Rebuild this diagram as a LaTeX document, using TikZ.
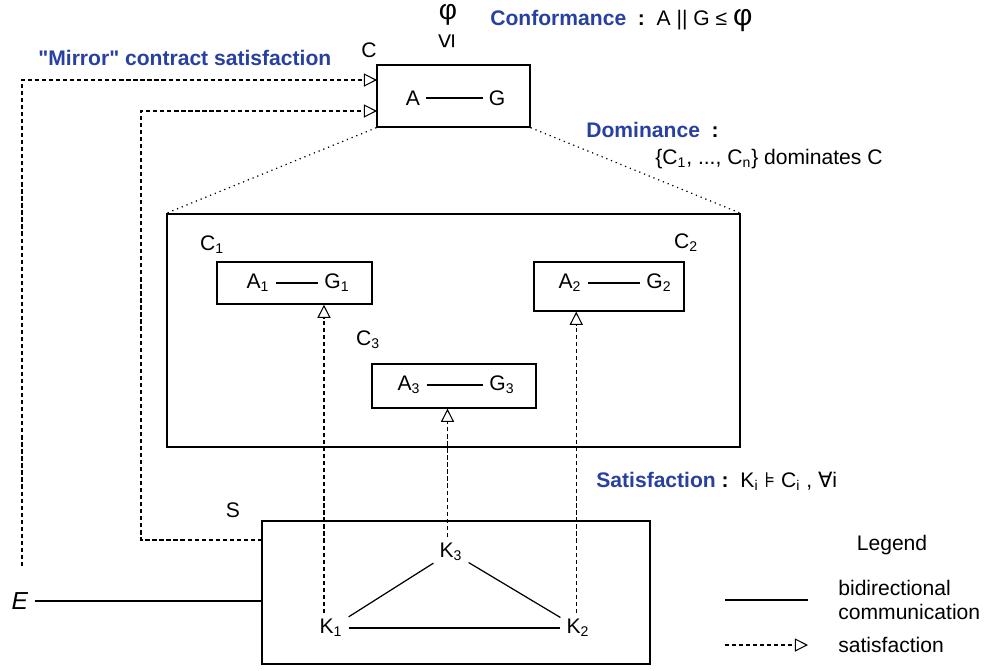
\documentclass[tikz,border=0pt]{standalone}
\usepackage{fontspec}
\setmainfont{Liberation Sans}
\newfontfamily\symfont{DejaVu Sans}
\usetikzlibrary{arrows.meta,fit}

\definecolor{titleblue}{RGB}{40,64,160}
\newcommand{\basefont}{\fontsize{12}{14}\selectfont}

\tikzset{
  box/.style={draw, line width=0.8pt, inner sep=0pt},
  sat/.style={dash pattern=on 2.4pt off 1.6pt, line width=0.6pt, -{Triangle[open,length=7.5pt,width=7.5pt]}},
  zoomline/.style={dash pattern=on 0.7pt off 2.2pt, line width=0.7pt},
  comm/.style={line width=0.7pt},
  heading/.style={font=\basefont\bfseries, text=titleblue, anchor=west, inner sep=0pt},
  lbl/.style={anchor=west, inner sep=0pt}
}

\begin{document}
\begin{tikzpicture}[x=0.02cm, y=-0.02cm, font=\basefont]
\useasboundingbox (0,0) rectangle (1003,670);

% Composed contract C
\node[box, fit={(377,65) (530,127)}] (C) {};
\node (Clbl) at (369,50) {C};
\node (A) at (413,98) {A};
\node (G) at (497,98) {G};
\draw[comm] (A) -- (G);

% Conformance
\node (phi) at (448,15) {\fontsize{16}{16}\selectfont φ};
\node[rotate=90] (leq) at (447,41) {\fontsize{15}{15}\selectfont ≤};
\node[heading] (conf) at (490,21) {Conformance~~\textcolor{black}{:}~~\mdseries\color{black}A || G ≤ {\fontsize{17}{17}\selectfont φ}};

% Mirror contract satisfaction
\node[heading] (mirror) at (38,58) {\textquotedbl Mirror\textquotedbl{} contract satisfaction};
\node (E) at (20,601) {\fontsize{14}{14}\selectfont\textit{E}};
\coordinate (Etop) at (22,566);
\coordinate (Cin1) at (377,80);
\coordinate (Cin2) at (377,111);
\coordinate (Sout) at (262,540);
\draw[sat] (Etop) |- (Cin1);
\draw[sat] (Sout) -- (141,540) |- (Cin2);

% Sub-contracts
\node[box, fit={(167,214) (740,447)}] (Big) {};
\draw[zoomline] (C.south west) -- (Big.north west);
\draw[zoomline] (C.south east) -- (Big.north east);

\node[box, fit={(217,262) (372,304)}] (C1) {};
\node (C1lbl) at (212,245) {C\textsubscript{1}};
\node (A1) at (258,283) {A\textsubscript{1}};
\node (G1) at (337,283) {G\textsubscript{1}};
\draw[comm] (A1) -- (G1);

\node[box, fit={(534,262) (684,311)}] (C2) {};
\node (C2lbl) at (686,243) {C\textsubscript{2}};
\node (A2) at (570,283) {A\textsubscript{2}};
\node (G2) at (659,283) {G\textsubscript{2}};
\draw[comm] (A2) -- (G2);

\node[box, fit={(372,364) (536,408)}] (C3) {};
\node (C3lbl) at (368,340) {C\textsubscript{3}};
\node (A3) at (409,385) {A\textsubscript{3}};
\node (G3) at (502,385) {G\textsubscript{3}};
\draw[comm] (A3) -- (G3);

% Dominance
\node[heading] (dom) at (586,130) {Dominance~~\textcolor{black}{:}};
\node[lbl] (domtext) at (655,159) {\{C\textsubscript{1}, ..., C\textsubscript{n}\} dominates C};

% System S
\node[box, fit={(262,521) (650,664)}] (S) {};
\node (Slbl) at (233,510) {S};
\node (K3) at (451,552) {K\textsubscript{3}};
\node (K1) at (331,628) {K\textsubscript{1}};
\node (K2) at (578,628) {K\textsubscript{2}};
\draw[comm] (K3) -- (K1);
\draw[comm] (K3) -- (K2);
\draw[comm] (K1) -- (K2);
\draw[comm] (E) -- (E -| S.west);

% Satisfaction
\draw[sat] ([xshift=-4pt]K1.north) -- ([xshift=-4pt]K1.north |- C1.south);
\draw[sat] ([xshift=-2pt]K3.north) -- ([xshift=-2pt]K3.north |- C3.south);
\draw[sat] ([xshift=-1pt]K2.north) -- ([xshift=-1pt]K2.north |- C2.south);
\node[heading] (satis) at (596,481) {Satisfaction~\textcolor{black}{:}~~\mdseries\color{black}K\textsubscript{i} {\symfont ⊧} C\textsubscript{i} , {\symfont ∀}i};

% Legend
\node (legend) at (892,545) {Legend};
\coordinate (L1a) at (725,600);
\coordinate (L1b) at (808,600);
\draw[comm] (L1a) -- (L1b);
\node[lbl, align=left] (bidir) at (838,600) {bidirectional\\communication};
\coordinate (L2a) at (725,645);
\coordinate (L2b) at (808,645);
\draw[sat] (L2a) -- (L2b);
\node[lbl] (satlbl) at (838,645) {satisfaction};
\end{tikzpicture}
\end{document}
